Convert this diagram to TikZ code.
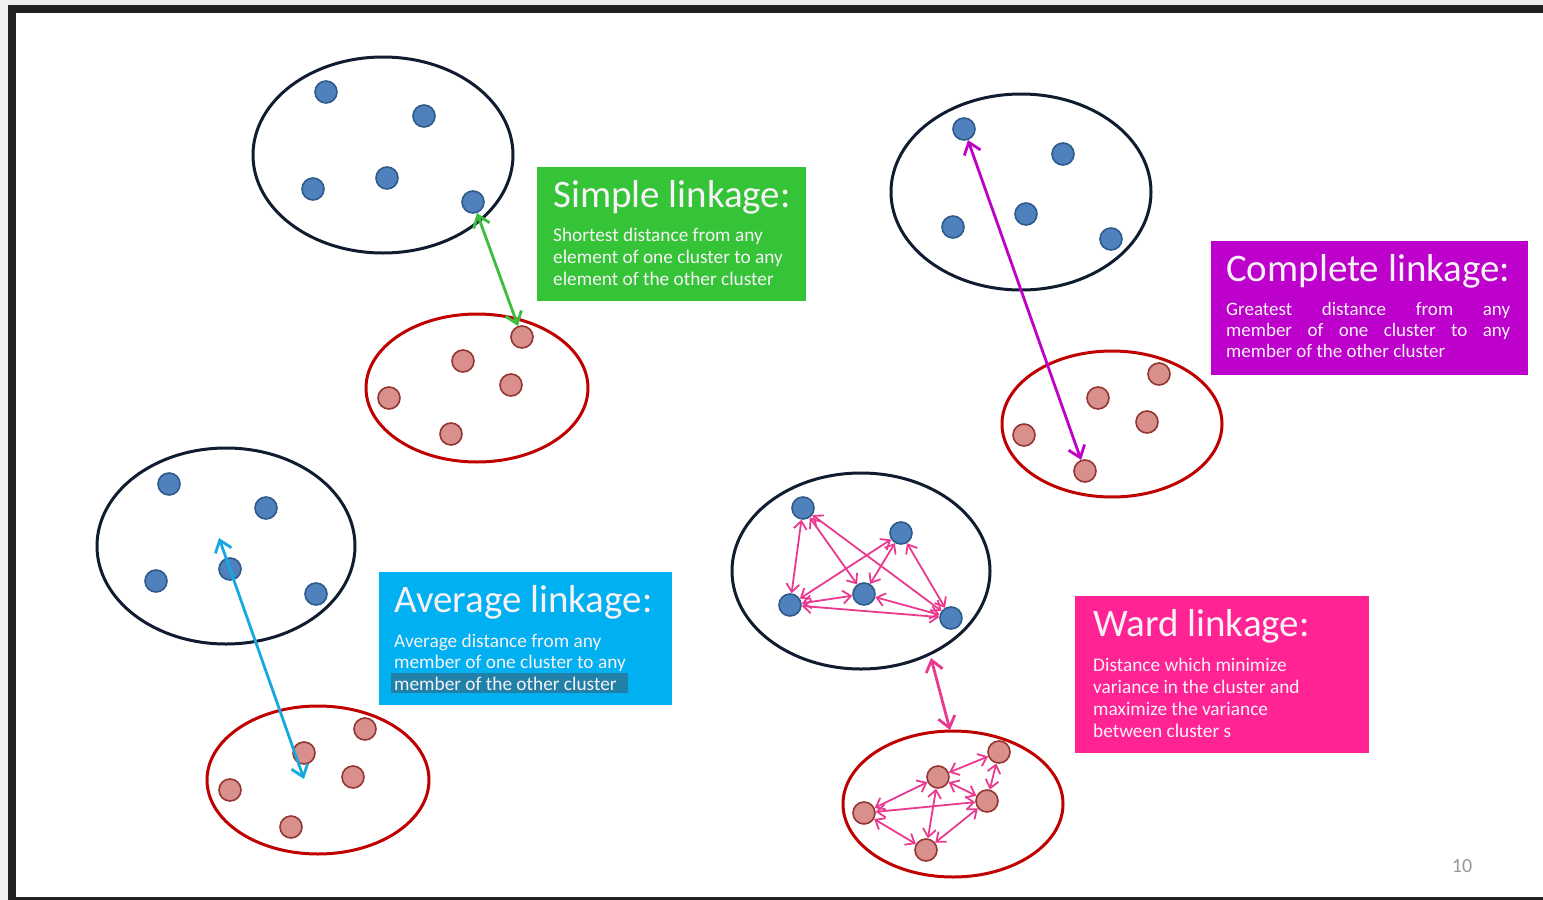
\documentclass[tikz,border=0pt]{standalone}
\usepackage{fontspec}
\setmainfont{Carlito}
\usetikzlibrary{arrows.meta,shapes.geometric}
\definecolor{framegray}{HTML}{EFEFEF}
\definecolor{framedark}{HTML}{222222}
\definecolor{navy}{HTML}{101C30}
\definecolor{clred}{HTML}{C00000}
\definecolor{dotblue}{HTML}{4F81BD}
\definecolor{dotblueline}{HTML}{2E5A8C}
\definecolor{dotred}{HTML}{D9908C}
\definecolor{dotredline}{HTML}{943634}
\definecolor{boxgreen}{HTML}{35C437}
\definecolor{boxpurple}{HTML}{BE00CC}
\definecolor{boxcyan}{HTML}{00B0F0}
\definecolor{boxpink}{HTML}{FF2394}
\definecolor{arrgreen}{HTML}{3CBE3C}
\definecolor{arrpurple}{HTML}{BE00C8}
\definecolor{arrcyan}{HTML}{14AAE1}
\definecolor{arrpink}{HTML}{EA3A8F}
\definecolor{hilite}{HTML}{2180A8}
\definecolor{boxtext}{HTML}{F6F2F6}
\tikzset{
  x=1pt,y=-1pt,
  bdot/.style={circle,fill=dotblue,draw=dotblueline,line width=1.6pt,minimum size=22pt,inner sep=0pt},
  rdot/.style={circle,fill=dotred,draw=dotredline,line width=1.6pt,minimum size=22pt,inner sep=0pt},
  bclust/.style={ellipse,draw=navy,line width=3pt,inner sep=0pt},
  rclust/.style={ellipse,draw=clred,line width=3pt,inner sep=0pt},
  dbl/.style={{Straight Barb[length=11pt,width=17pt]}-{Straight Barb[length=11pt,width=17pt]},line width=2.8pt},
  wdbl/.style={{Straight Barb[length=8pt,width=13pt]}-{Straight Barb[length=8pt,width=13pt]},line width=1.8pt,draw=arrpink},
  boxtitle/.style={anchor=base west,inner sep=0pt,text=boxtext,font=\fontsize{39}{42}\selectfont},
  boxbody/.style={anchor=north west,inner sep=0pt,text=boxtext,align=left,font=\fontsize{19.3}{22}\selectfont},
}
\begin{document}
\begin{tikzpicture}
\useasboundingbox (0,0) rectangle (1543,900);
% frame
\fill[framegray] (0,0) rectangle (1543,900);
\fill[framedark] (8,5) rectangle (1543,900);
\fill[white] (16,13) rectangle (1543,897);

% ---------- Simple linkage ----------
\node[bclust,minimum width=260pt,minimum height=196pt] (e1) at (383,155) {};
\node[rclust,minimum width=222pt,minimum height=148pt] (e2) at (477,388) {};
\node[bdot] (a1) at (326,92) {};
\node[bdot] (a2) at (424,116) {};
\node[bdot] (a3) at (313,189) {};
\node[bdot] (a4) at (387,178) {};
\node[bdot] (a5) at (473,202) {};
\node[rdot] (b1) at (463,361) {};
\node[rdot] (b2) at (522,337) {};
\node[rdot] (b3) at (511,385) {};
\node[rdot] (b4) at (389,398) {};
\node[rdot] (b5) at (451,434) {};
\draw[dbl,draw=arrgreen] (a5) -- (b2);
\fill[boxgreen] (537,167) rectangle (806,301);
\node[boxtitle] (t1) at (553,207) {Simple linkage:};
\node[boxbody] (d1) at (553,227.5) {Shortest distance from any\\element of one cluster to any\\element of the other cluster};

% ---------- Complete linkage ----------
\node[bclust,minimum width=260pt,minimum height=196pt] (e3) at (1021,192) {};
\node[rclust,minimum width=220pt,minimum height=146pt] (e4) at (1112,424) {};
\node[bdot] (c1) at (964,129) {};
\node[bdot] (c2) at (1063,154) {};
\node[bdot] (c3) at (953,227) {};
\node[bdot] (c4) at (1026,214) {};
\node[bdot] (c5) at (1111,239) {};
\node[rdot] (f1) at (1159,374) {};
\node[rdot] (f2) at (1098,398) {};
\node[rdot] (f3) at (1147,422) {};
\node[rdot] (f4) at (1024,435) {};
\node[rdot] (f5) at (1085,471) {};
\draw[dbl,draw=arrpurple] (c1) -- (f5);
\fill[boxpurple] (1211,241) rectangle (1528,375);
\node[boxtitle] (t2) at (1226,281) {Complete linkage:};
\node[boxbody,text width=284pt,align=justify,font=\fontsize{19}{20.7}\selectfont] (d2) at (1226,302.5) {Greatest distance from any\linebreak member of one cluster to any\linebreak member of the other cluster};

% ---------- Average linkage ----------
\node[bclust,minimum width=258pt,minimum height=196pt] (e5) at (226,546) {};
\node[rclust,minimum width=222pt,minimum height=148pt] (e6) at (318,780) {};
\node[bdot] (g1) at (169,484) {};
\node[bdot] (g2) at (266,508) {};
\node[bdot] (g3) at (156,581) {};
\node[bdot] (g4) at (230,569) {};
\node[bdot] (g5) at (316,594) {};
\node[rdot] (h1) at (365,729) {};
\node[rdot] (h2) at (304,753) {};
\node[rdot] (h3) at (353,777) {};
\node[rdot] (h4) at (230,790) {};
\node[rdot] (h5) at (291,827) {};
\coordinate (ca) at (219,538);
\coordinate (cb) at (304,779);
\draw[dbl,draw=arrcyan] (ca) -- (cb);
\fill[boxcyan] (379,572) rectangle (672,705);
\fill[hilite] (391,673) rectangle (628,693);
\node[boxtitle] (t3) at (394,612) {Average linkage:};
\node[boxbody,font=\fontsize{19.3}{21.5}\selectfont] (d3) at (394,633.5) {Average distance from any\\member of one cluster to any\\member of the other cluster};

% ---------- Ward linkage ----------
\node[bclust,minimum width=258pt,minimum height=196pt] (e7) at (861,571) {};
\node[rclust,minimum width=220pt,minimum height=146pt] (e8) at (953,804) {};
\node[bdot] (w1) at (803,508) {};
\node[bdot] (w2) at (901,533) {};
\node[bdot] (w3) at (790,605) {};
\node[bdot] (w4) at (864,594) {};
\node[bdot] (w5) at (951,618) {};
\node[rdot] (v1) at (999,752) {};
\node[rdot] (v2) at (938,777) {};
\node[rdot] (v3) at (987,801) {};
\node[rdot] (v4) at (864,813) {};
\node[rdot] (v5) at (926,850) {};
\draw[wdbl] (w1) -- (w3);
\draw[wdbl] (w1) -- (w4);
\draw[wdbl] (w1) -- (w5);
\draw[wdbl] (w2) -- (w3);
\draw[wdbl] (w2) -- (w4);
\draw[wdbl] (w2) -- (w5);
\draw[wdbl] (w3) -- (w4);
\draw[wdbl] (w3) -- (w5);
\draw[wdbl] (w4) -- (w5);
\draw[wdbl] (v2) -- (v1);
\draw[wdbl] (v1) -- (v3);
\draw[wdbl] (v2) -- (v3);
\draw[wdbl] (v4) -- (v2);
\draw[wdbl] (v4) -- (v3);
\draw[wdbl] (v4) -- (v5);
\draw[wdbl] (v2) -- (v5);
\draw[wdbl] (v3) -- (v5);
\coordinate (wa) at (931,658);
\coordinate (wb) at (950,730);
\draw[dbl,draw=arrpink] (wa) -- (wb);
\fill[boxpink] (1075,596) rectangle (1369,753);
\node[boxtitle] (t4) at (1093,636) {Ward linkage:};
\node[boxbody] (d4) at (1093,657.5) {Distance which minimize\\variance in the cluster and\\maximize the variance\\between cluster s};

% page number
\node[text=gray!80,font=\fontsize{20}{24}\selectfont,inner sep=0pt] (pn) at (1462,866) {10};
\end{tikzpicture}
\end{document}
